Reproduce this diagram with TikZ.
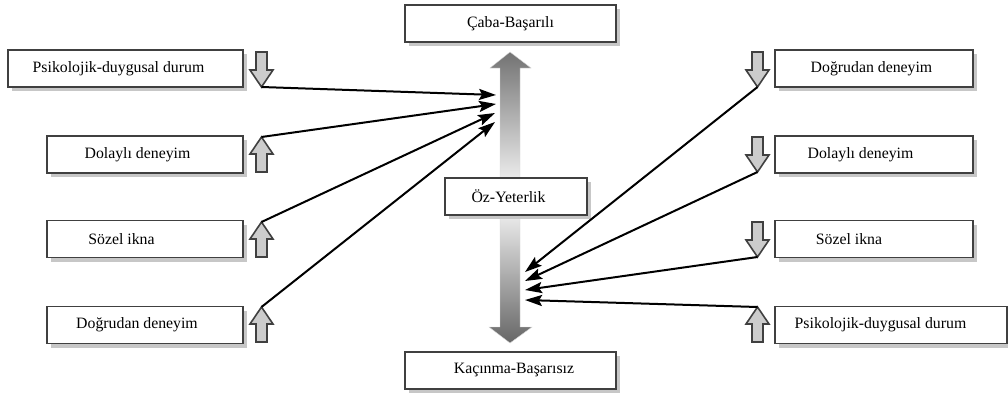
\documentclass[tikz,border=0pt]{standalone}
\usepackage{fontspec}
\setmainfont{Liberation Serif}
\usetikzlibrary{arrows.meta,shadows}

\tikzset{
  box/.style={draw=black!75,line width=1.1pt,fill=white,inner sep=0pt,
    minimum height=37pt,font=\rmfamily\fontsize{15.8}{18}\selectfont,
    drop shadow={shadow xshift=4pt,shadow yshift=-4pt,fill=black!22,opacity=1}},
  tx/.style={execute at begin node={\hspace*{#1}}},
  blockarrow/.style={draw=black!75,line width=1.6pt,fill=black!20,line join=miter},
  conn/.style={line width=2pt,-{Stealth[length=17pt,width=11pt,inset=3pt]}},
  pics/dnarrow/.style={code={
    \draw[blockarrow] (-5.5,0) -- (5.5,0) -- (5.5,18) -- (11.5,18) -- (0,35)
      -- (-11.5,18) -- (-5.5,18) -- cycle;
    \coordinate (-tip) at (0,35);}},
  pics/uparrow/.style={code={
    \draw[blockarrow] (0,0) -- (11.5,17) -- (5.5,17) -- (5.5,35) -- (-5.5,35)
      -- (-5.5,17) -- (-11.5,17) -- cycle;
    \coordinate (-tip) at (0,0);}}
}

\begin{document}
\begin{tikzpicture}[x=1pt,y=-1pt]
      \useasboundingbox (0,0) rectangle (1008,396);
      % central arrows
      \shade[top color=black!55,bottom color=black!8,draw=black!15,line width=0.4pt]
        (510,52) -- (531,68) -- (520,68) -- (520,178) -- (500,178) -- (500,68)
        -- (490,68) -- cycle;
      \shade[top color=black!8,bottom color=black!60,draw=black!15,line width=0.4pt]
        (500,215) -- (520,215) -- (520,327) -- (532,327) -- (510,343)
        -- (489,327) -- (500,327) -- cycle;

      \node[box,minimum width=211pt] (basari) at (510.5,23.5) {Çaba-Başarılı};
      \node[box,minimum width=142pt,tx=-15pt] (oz) at (516,196.5) {Öz-Yeterlik};
      \node[box,minimum width=211pt,tx=7pt] (kacinma) at (510.5,370.5) {Kaçınma-Başarısız};

      \node[box,minimum width=235pt,tx=-14pt] (lpsi) at (125.5,68.5) {Psikolojik-duygusal durum};
      \node[box,minimum width=196pt,tx=-15pt] (ldol) at (145,154.5) {Dolaylı deneyim};
      \node[box,minimum width=196pt,tx=-47pt] (lsoz) at (145,239) {Sözel ikna};
      \node[box,minimum width=196pt,tx=-16pt] (ldog) at (145,325) {Doğrudan deneyim};

      \node[box,minimum width=198pt,tx=-5pt] (rdog) at (874,68.5) {Doğrudan deneyim};
      \node[box,minimum width=198pt,tx=-27pt] (rdol) at (874,154.5) {Dolaylı deneyim};
      \node[box,minimum width=198pt,tx=-50pt] (rsoz) at (874,239) {Sözel ikna};
      \node[box,minimum width=232pt,tx=-21pt] (rpsi) at (891,325) {Psikolojik-duygusal durum};

      \pic (la1) at (261.5,52) {dnarrow};
      \pic (la2) at (261.5,137) {uparrow};
      \pic (la3) at (261.5,222) {uparrow};
      \pic (la4) at (261.5,307) {uparrow};
      \pic (ra1) at (757.5,52) {dnarrow};
      \pic (ra2) at (757.5,137) {dnarrow};
      \pic (ra3) at (757.5,222) {dnarrow};
      \pic (ra4) at (757.5,307) {uparrow};

      \coordinate (in1) at (496,95);
      \coordinate (in2) at (496,104);
      \coordinate (in3) at (495,113);
      \coordinate (in4) at (495,122);
      \coordinate (out1) at (525,272);
      \coordinate (out2) at (525,281);
      \coordinate (out3) at (525,290);
      \coordinate (out4) at (525,300);

      \draw[conn] (la1-tip) -- (in1);
      \draw[conn] (la2-tip) -- (in2);
      \draw[conn] (la3-tip) -- (in3);
      \draw[conn] (la4-tip) -- (in4);
      \draw[conn] (ra1-tip) -- (out1);
      \draw[conn] (ra2-tip) -- (out2);
      \draw[conn] (ra3-tip) -- (out3);
      \draw[conn] (ra4-tip) -- (out4);
\end{tikzpicture}
\end{document}
